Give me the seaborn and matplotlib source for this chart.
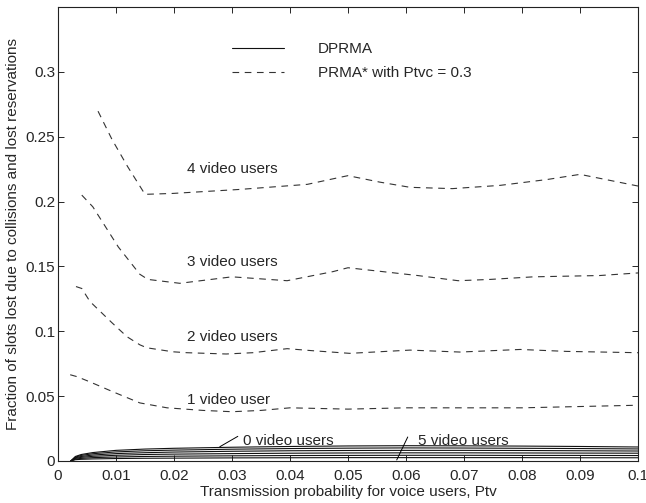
import numpy as np
import pandas as pd
import matplotlib
matplotlib.use("Agg")
import matplotlib.pyplot as plt
from matplotlib.lines import Line2D
import seaborn as sns

# ========== DATA ==========
# DPRMA (solid) curves, 0..5 video users
dprma_x = [0.0022, 0.003, 0.004, 0.006, 0.01, 0.015, 0.02, 0.03, 0.04, 0.05, 0.06, 0.07, 0.08, 0.09, 0.1]
dprma_0 = [0, 0.0035, 0.0050, 0.0065, 0.0082, 0.0092, 0.0098, 0.0106, 0.0112, 0.0116, 0.0118, 0.0117, 0.0115, 0.0112, 0.0108]
dprma_1 = [0, 0.0030, 0.0043, 0.0056, 0.0070, 0.0079, 0.0084, 0.0091, 0.0096, 0.0099, 0.0101, 0.0100, 0.0098, 0.0096, 0.0093]
dprma_2 = [0, 0.0025, 0.0035, 0.0046, 0.0057, 0.0064, 0.0069, 0.0075, 0.0079, 0.0081, 0.0082, 0.0082, 0.0081, 0.0079, 0.0077]
dprma_3 = [0, 0.0020, 0.0028, 0.0036, 0.0044, 0.0050, 0.0053, 0.0057, 0.0060, 0.0062, 0.0063, 0.0063, 0.0062, 0.0061, 0.0060]
dprma_4 = [0, 0.0015, 0.0020, 0.0026, 0.0031, 0.0035, 0.0037, 0.0040, 0.0042, 0.0043, 0.0044, 0.0044, 0.0043, 0.0043, 0.0042]
dprma_5 = [0, 0.0010, 0.0013, 0.0016, 0.0019, 0.0021, 0.0022, 0.0024, 0.0025, 0.0026, 0.0026, 0.0026, 0.0026, 0.0025, 0.0025]

# PRMA* (dashed) curves, 1..4 video users
prma1_x = [0.0021, 0.0033, 0.0055, 0.0095, 0.0141, 0.0188, 0.025, 0.03, 0.035, 0.04, 0.05, 0.06, 0.07, 0.08, 0.09, 0.1]
prma1_y = [0.0665, 0.065, 0.061, 0.0533, 0.0448, 0.041, 0.039, 0.038, 0.039, 0.041, 0.040, 0.041, 0.041, 0.041, 0.042, 0.043]

prma2_x = [0.0031, 0.0041, 0.0055, 0.0093, 0.0119, 0.0141, 0.0153, 0.0198, 0.0222, 0.029, 0.0336, 0.0395,
           0.044, 0.0503, 0.0607, 0.0693, 0.0797, 0.0877, 0.1]
prma2_y = [0.1345, 0.133, 0.123, 0.1066, 0.0958, 0.0896, 0.0873, 0.0842, 0.0835, 0.0825, 0.0835, 0.0866,
           0.0850, 0.0830, 0.0855, 0.0840, 0.0860, 0.0845, 0.0835]

prma3_x = [0.0041, 0.006, 0.0104, 0.0141, 0.0155, 0.021, 0.03, 0.0395, 0.0474, 0.05, 0.056, 0.062, 0.069,
           0.0745, 0.082, 0.0934, 0.1]
prma3_y = [0.205, 0.196, 0.165, 0.144, 0.140, 0.137, 0.142, 0.139, 0.146, 0.149, 0.146, 0.143, 0.139,
           0.140, 0.142, 0.143, 0.145]

prma4_x = [0.0069, 0.0093, 0.012, 0.015, 0.0198, 0.0314, 0.043, 0.0486, 0.05, 0.0555, 0.0607, 0.068,
           0.0762, 0.0843, 0.09, 0.095, 0.1]
prma4_y = [0.2697, 0.248, 0.227, 0.2056, 0.2063, 0.2094, 0.2133, 0.2187, 0.220, 0.215, 0.211, 0.210,
           0.2125, 0.217, 0.221, 0.2165, 0.212]

x_ticks = [0, 0.01, 0.02, 0.03, 0.04, 0.05, 0.06, 0.07, 0.08, 0.09, 0.1]
x_tick_labels = ["0", "0.01", "0.02", "0.03", "0.04", "0.05", "0.06", "0.07", "0.08", "0.09", "0.1"]
y_ticks = [0, 0.05, 0.1, 0.15, 0.2, 0.25, 0.3]
y_tick_labels = ["0", "0.05", "0.1", "0.15", "0.2", "0.25", "0.3"]

curve_labels = ["1 video user", "2 video users", "3 video users", "4 video users"]
label_pos = [(0.0222, 0.0471), (0.0222, 0.0958), (0.0222, 0.1538), (0.0222, 0.2249)]

FS = 11

# ========== STYLE ==========
sns.set_style("ticks")
plt.rcParams["font.family"] = ["Liberation Sans", "DejaVu Sans"]
plt.rcParams["font.size"] = FS

fig = plt.figure(figsize=(6.46, 5.03), dpi=100)
ax = fig.add_axes([0.0898, 0.0835, 0.8978, 0.9025])

solid_color = "#111111"
dash_color = "#333333"
dash_style = (0, (6, 5))

# ========== SOLID CURVES ==========
for ys in [dprma_0, dprma_1, dprma_2, dprma_3, dprma_4, dprma_5]:
    df = pd.DataFrame({"x": dprma_x, "y": ys})
    sns.lineplot(data=df, x="x", y="y", ax=ax, color=solid_color, lw=0.8,
                 sort=False, estimator=None)

# ========== DASHED CURVES ==========
for xs, ys in [(prma1_x, prma1_y), (prma2_x, prma2_y), (prma3_x, prma3_y), (prma4_x, prma4_y)]:
    df = pd.DataFrame({"x": xs, "y": ys})
    sns.lineplot(data=df, x="x", y="y", ax=ax, color=dash_color, lw=0.8,
                 linestyle=dash_style, sort=False, estimator=None)

for txt, (tx, ty) in zip(curve_labels, label_pos):
    ax.text(tx, ty, txt, ha="left", va="center", fontsize=FS)

# labels + leader lines for the solid family
ax.text(0.0319, 0.0152, "0 video users", ha="left", va="center", fontsize=FS)
ax.annotate("", xy=(0.0279, 0.0110), xytext=(0.0310, 0.0190),
            arrowprops=dict(arrowstyle="-", color="black", lw=0.7, shrinkA=0, shrinkB=0))
ax.text(0.0620, 0.0152, "5 video users", ha="left", va="center", fontsize=FS)
ax.annotate("", xy=(0.0584, 0.0008), xytext=(0.0603, 0.0185),
            arrowprops=dict(arrowstyle="-", color="black", lw=0.7, shrinkA=0, shrinkB=0))

# ========== LEGEND ==========
handles = [Line2D([], [], color=solid_color, lw=0.8),
           Line2D([], [], color=dash_color, lw=0.8, linestyle=dash_style)]
ax.legend(handles, ["DPRMA", "PRMA* with Ptvc = 0.3"], frameon=False,
          loc="upper left", bbox_to_anchor=(0.30, 0.923), borderpad=0, borderaxespad=0,
          handlelength=3.4, handletextpad=2.2, labelspacing=0.65, fontsize=FS)

# ========== AXES ==========
ax.set_xlim(0, 0.1)
ax.set_ylim(0, 0.35)
ax.set_xticks(x_ticks)
ax.set_xticklabels(x_tick_labels)
ax.set_yticks(y_ticks)
ax.set_yticklabels(y_tick_labels)
ax.tick_params(direction="in", top=True, right=True, length=4, width=0.7, labelsize=FS)
ax.tick_params(axis="x", pad=6)
ax.tick_params(axis="y", pad=2)
for s in ax.spines.values():
    s.set_visible(True)
    s.set_linewidth(0.8)
    s.set_color("#222222")
ax.set_xlabel("Transmission probability for voice users, Ptv", fontsize=FS, labelpad=1)
ax.set_ylabel("Fraction of slots lost due to collisions and lost reservations", fontsize=FS, labelpad=4)

fig.savefig("out.png", dpi=100)
